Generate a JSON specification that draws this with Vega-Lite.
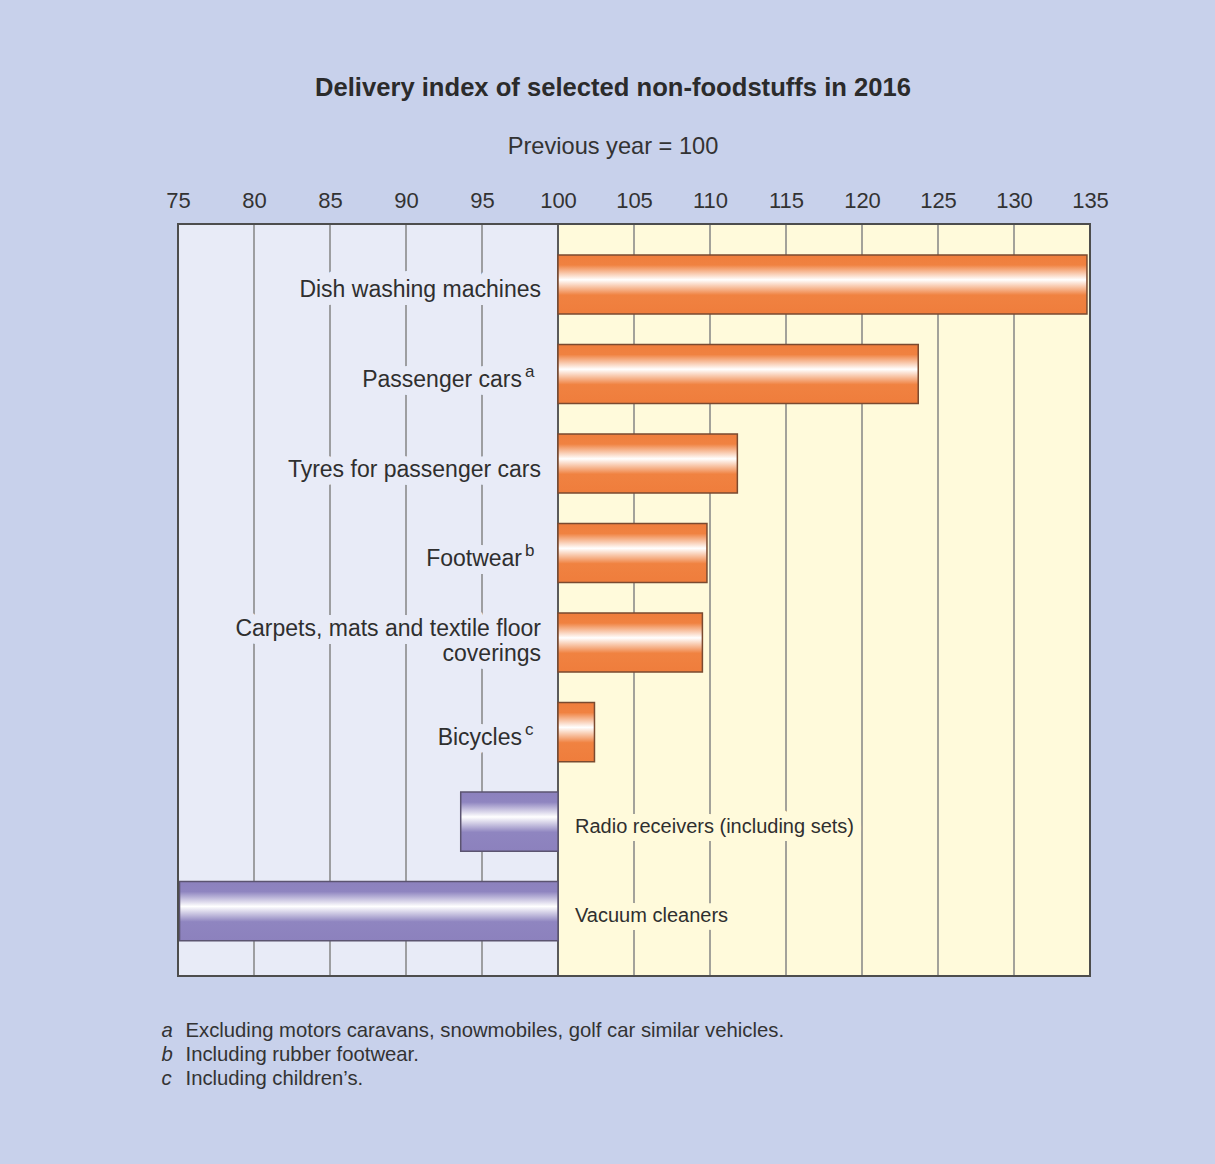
{
  "$schema": "https://vega.github.io/schema/vega-lite/v6.json",
  "width": 912,
  "height": 752,
  "autosize": {"type": "none"},
  "padding": {"left": 178, "top": 224, "right": 125, "bottom": 188},
  "background": "#c8d1eb",
  "config": {"view": {"stroke": null}, "font": "Liberation Sans"},
  "title": {
    "text": "Delivery index of selected non-foodstuffs in 2016",
    "subtitle": "Previous year = 100",
    "font": "Liberation Sans",
    "fontSize": 25.6,
    "fontWeight": "bold",
    "color": "#2b2b2b",
    "subtitleFont": "Liberation Sans",
    "subtitleFontSize": 23.6,
    "subtitleColor": "#333333",
    "subtitlePadding": 34,
    "anchor": "middle",
    "offset": 30,
    "dx": -21
  },
  "datasets": {
    "items": [
      {"item": "Dish washing machines", "value": 134.8, "note": null},
      {"item": "Passenger cars", "value": 123.7, "note": "a"},
      {"item": "Tyres for passenger cars", "value": 111.8, "note": null},
      {"item": "Footwear", "value": 109.8, "note": "b"},
      {"item": "Carpets, mats and textile floor\ncoverings", "value": 109.5, "note": null},
      {"item": "Bicycles", "value": 102.4, "note": "c"},
      {"item": "Radio receivers (including sets)", "value": 93.6, "note": null},
      {"item": "Vacuum cleaners", "value": 75.1, "note": null}
    ],
    "regions": [
      {"side": "decline", "from": 75, "to": 100},
      {"side": "growth", "from": 100, "to": 135}
    ],
    "gridlines": [
      {"v": 80}, {"v": 85}, {"v": 90}, {"v": 95}, {"v": 105}, {"v": 110},
      {"v": 115}, {"v": 120}, {"v": 125}, {"v": 130}
    ]
  },
  "resolve": {"axis": {"x": "independent"}},
  "layer": [
    {
      "data": {"name": "regions"},
      "mark": {"type": "rect"},
      "encoding": {
        "x": {
          "field": "from", "type": "quantitative",
          "scale": {"domain": [75, 135], "nice": false, "zero": false},
          "axis": {
            "orient": "bottom", "labels": false, "ticks": false, "domain": false, "grid": false,
            "title": ["a", "b", "c"],
            "titleFont": "Liberation Sans", "titleFontSize": 20.3, "titleFontStyle": "italic",
            "titleFontWeight": "normal", "titleColor": "#333333", "titleAlign": "left",
            "titleBaseline": "alphabetic", "titleAngle": 0, "titleX": -17, "titleY": 60,
            "titleLineHeight": 24
          }
        },
        "x2": {"field": "to"},
        "color": {
          "field": "side", "type": "nominal",
          "scale": {"domain": ["decline", "growth"], "range": ["#e8ebf7", "#fffadb"]},
          "legend": null
        }
      }
    },
    {
      "data": {"name": "gridlines"},
      "mark": {"type": "rule", "color": "#858585", "strokeWidth": 1.5},
      "encoding": {
        "x": {
          "field": "v", "type": "quantitative",
          "axis": {
            "orient": "top", "values": [75, 80, 85, 90, 95, 100, 105, 110, 115, 120, 125, 130, 135],
            "labelFont": "Liberation Sans", "labelFontSize": 22, "labelColor": "#333333",
            "ticks": false, "domain": false, "grid": false, "labelPadding": 12,
            "labelFlush": false, "labelOverlap": false, "title": null
          }
        }
      }
    },
    {
      "data": {"values": [{}]},
      "mark": {"type": "rule", "color": "#5a5a5a", "strokeWidth": 2},
      "encoding": {"x": {"datum": 100, "type": "quantitative", "axis": null}}
    },
    {
      "data": {"name": "items"},
      "mark": {"type": "bar", "strokeWidth": 1.5},
      "encoding": {
        "y": {
          "field": "item", "type": "nominal", "axis": null,
          "scale": {
            "domain": ["Dish washing machines", "Passenger cars", "Tyres for passenger cars", "Footwear", "Carpets, mats and textile floor\ncoverings", "Bicycles", "Radio receivers (including sets)", "Vacuum cleaners"],
            "paddingInner": 0.34, "paddingOuter": 0.37, "align": 0.467
          }
        },
        "x": {"field": "value", "type": "quantitative", "axis": null},
        "x2": {"datum": 100},
        "color": {
          "condition": {
            "test": "datum.value < 100",
            "value": {"gradient": "linear", "x1": 0, "y1": 0, "x2": 0, "y2": 1,
              "stops": [
                {"offset": 0, "color": "#8c81bd"},
                {"offset": 0.17, "color": "#8f85c0"},
                {"offset": 0.42, "color": "#ffffff"},
                {"offset": 0.68, "color": "#8f85c0"},
                {"offset": 1, "color": "#8c81bd"}
              ]}
          },
          "value": {"gradient": "linear", "x1": 0, "y1": 0, "x2": 0, "y2": 1,
            "stops": [
              {"offset": 0, "color": "#ef7d3c"},
              {"offset": 0.17, "color": "#f08241"},
              {"offset": 0.42, "color": "#ffffff"},
              {"offset": 0.68, "color": "#f08241"},
              {"offset": 1, "color": "#ef7d3c"}
            ]}
        },
        "stroke": {
          "condition": {"test": "datum.value < 100", "value": "#5b5470"},
          "value": "#7a4a30"
        }
      }
    },
    {
      "data": {"name": "items"},
      "transform": [{"filter": "datum.value >= 100 && !datum.note && indexof(datum.item, '\\n') < 0"}],
      "mark": {"type": "text", "align": "right", "baseline": "middle", "dx": -17, "dy": 6,
        "fontSize": 23, "fill": "#e8ebf7", "stroke": "#e8ebf7", "strokeWidth": 16, "strokeJoin": "round"},
      "encoding": {
        "y": {"field": "item", "type": "nominal", "axis": null},
        "x": {"datum": 100, "type": "quantitative", "axis": null},
        "text": {"field": "item"}
      }
    },
    {
      "data": {"name": "items"},
      "transform": [{"filter": "indexof(datum.item, '\\n') >= 0"}],
      "mark": {"type": "text", "align": "right", "baseline": "middle", "dx": -17, "dy": -14,
        "fontSize": 23, "lineBreak": "\n", "lineHeight": 25,
        "fill": "#e8ebf7", "stroke": "#e8ebf7", "strokeWidth": 16, "strokeJoin": "round"},
      "encoding": {
        "y": {"field": "item", "type": "nominal", "axis": null},
        "x": {"datum": 100, "type": "quantitative", "axis": null},
        "text": {"field": "item"}
      }
    },
    {
      "data": {"name": "items"},
      "transform": [{"filter": "datum.value >= 100 && datum.note"}],
      "mark": {"type": "text", "align": "right", "baseline": "middle", "dx": -36, "dy": 6,
        "fontSize": 23, "fill": "#e8ebf7", "stroke": "#e8ebf7", "strokeWidth": 16, "strokeJoin": "round"},
      "encoding": {
        "y": {"field": "item", "type": "nominal", "axis": null},
        "x": {"datum": 100, "type": "quantitative", "axis": null},
        "text": {"field": "item"}
      }
    },
    {
      "data": {"name": "items"},
      "transform": [{"filter": "datum.value < 100"}],
      "mark": {"type": "text", "align": "left", "baseline": "middle", "dx": 17, "dy": 5,
        "fontSize": 20, "fill": "#fffadb", "stroke": "#fffadb", "strokeWidth": 16, "strokeJoin": "round"},
      "encoding": {
        "y": {"field": "item", "type": "nominal", "axis": null},
        "x": {"datum": 100, "type": "quantitative", "axis": null},
        "text": {"field": "item"}
      }
    },
    {
      "data": {"name": "items"},
      "transform": [{"filter": "datum.value >= 100 && !datum.note && indexof(datum.item, '\\n') < 0"}],
      "mark": {"type": "text", "align": "right", "baseline": "middle", "dx": -17, "dy": 6,
        "fontSize": 23, "fill": "#2f2f2f"},
      "encoding": {
        "y": {"field": "item", "type": "nominal", "axis": null},
        "x": {"datum": 100, "type": "quantitative", "axis": null},
        "text": {"field": "item"}
      }
    },
    {
      "data": {"name": "items"},
      "transform": [{"filter": "indexof(datum.item, '\\n') >= 0"}],
      "mark": {"type": "text", "align": "right", "baseline": "middle", "dx": -17, "dy": -14,
        "fontSize": 23, "lineBreak": "\n", "lineHeight": 25, "fill": "#2f2f2f"},
      "encoding": {
        "y": {"field": "item", "type": "nominal", "axis": null},
        "x": {"datum": 100, "type": "quantitative", "axis": null},
        "text": {"field": "item"}
      }
    },
    {
      "data": {"name": "items"},
      "transform": [{"filter": "datum.value >= 100 && datum.note"}],
      "mark": {"type": "text", "align": "right", "baseline": "middle", "dx": -36, "dy": 6,
        "fontSize": 23, "fill": "#2f2f2f"},
      "encoding": {
        "y": {"field": "item", "type": "nominal", "axis": null},
        "x": {"datum": 100, "type": "quantitative", "axis": null},
        "text": {"field": "item"}
      }
    },
    {
      "data": {"name": "items"},
      "transform": [{"filter": "datum.note"}],
      "mark": {"type": "text", "align": "left", "baseline": "alphabetic", "dx": -33, "dy": 3,
        "fontSize": 17, "fill": "#2f2f2f"},
      "encoding": {
        "y": {"field": "item", "type": "nominal", "axis": null},
        "x": {"datum": 100, "type": "quantitative", "axis": null},
        "text": {"field": "note"}
      }
    },
    {
      "data": {"name": "items"},
      "transform": [{"filter": "datum.value < 100"}],
      "mark": {"type": "text", "align": "left", "baseline": "middle", "dx": 17, "dy": 5,
        "fontSize": 20, "fill": "#2f2f2f"},
      "encoding": {
        "y": {"field": "item", "type": "nominal", "axis": null},
        "x": {"datum": 100, "type": "quantitative", "axis": null},
        "text": {"field": "item"}
      }
    },
    {
      "data": {"values": [{}]},
      "mark": {"type": "rect", "fill": "transparent", "stroke": "#4d4d4d", "strokeWidth": 2},
      "encoding": {
        "x": {
          "datum": 75, "type": "quantitative",
          "axis": {
            "orient": "bottom", "labels": false, "ticks": false, "domain": false, "grid": false,
            "title": ["Excluding motors caravans, snowmobiles, golf car similar vehicles.", "Including rubber footwear.", "Including children’s."],
            "titleFont": "Liberation Sans", "titleFontSize": 20.3, "titleFontWeight": "normal",
            "titleColor": "#333333", "titleAlign": "left", "titleBaseline": "alphabetic",
            "titleAngle": 0, "titleX": 7, "titleY": 60, "titleLineHeight": 24
          }
        },
        "x2": {"datum": 135}
      }
    }
  ]
}
